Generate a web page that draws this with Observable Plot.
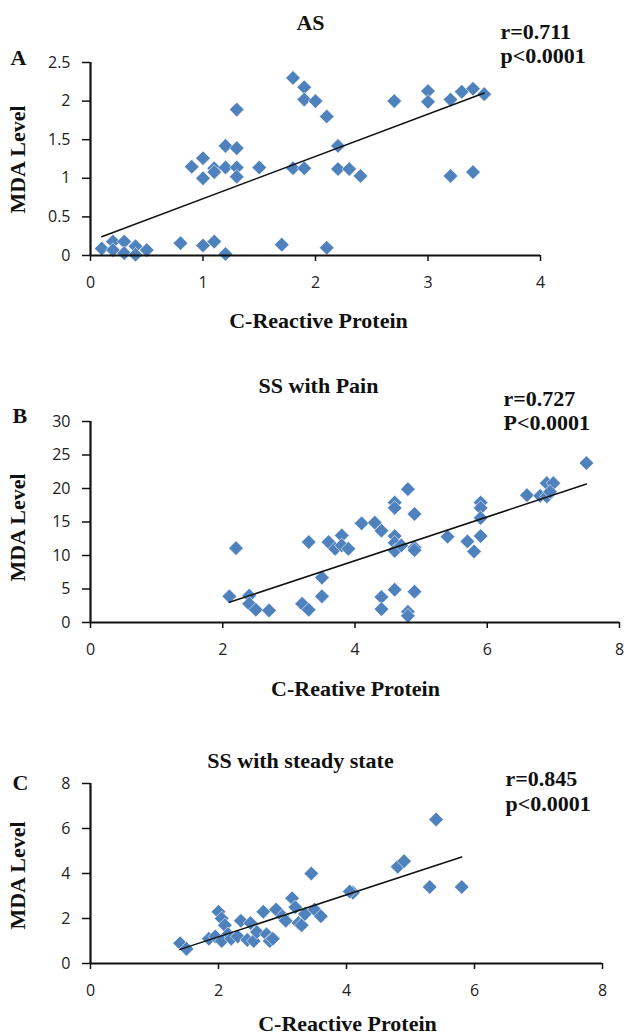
<!DOCTYPE html>
<html><head><meta charset="utf-8">
<script src="https://cdn.jsdelivr.net/npm/d3@7"></script>
<script src="https://cdn.jsdelivr.net/npm/@observablehq/plot@0.6"></script>
<style>
body{margin:0;background:#fff;}
#chart{width:624px;}
#chart svg{display:block;}
</style></head><body><div id="chart"></div>
<script>
// Panel A: AS
const asCRP = [0.1,0.2,0.2,0.3,0.3,0.4,0.4,0.5,0.8,1.0,1.1,1.2,1.7,2.1,
  0.9,1.0,1.0,1.1,1.1,1.2,1.2,1.3,1.3,1.3,1.3,1.5,
  1.8,1.9,1.9,2.0,2.1,2.2,1.8,1.9,2.2,2.3,2.4,2.7,3.0,3.0,3.2,3.3,3.4,3.5,3.2,3.4];
const asMDA = [0.09,0.18,0.07,0.18,0.03,0.12,0.01,0.07,0.16,0.13,0.18,0.02,0.14,0.10,
  1.15,1.26,1.0,1.13,1.08,1.42,1.14,1.89,1.39,1.14,1.02,1.14,
  2.30,2.18,2.02,2.0,1.80,1.42,1.13,1.13,1.12,1.12,1.03,2.0,2.13,1.99,2.02,2.12,2.16,2.09,1.03,1.08];
// Panel B: SS with Pain
const painCRP = [2.1,2.2,2.4,2.4,2.5,2.7,3.2,3.3,3.3,3.5,3.5,3.6,3.7,3.8,3.8,3.9,4.1,4.3,4.4,4.4,4.4,
  4.6,4.6,4.6,4.6,4.6,4.6,4.7,4.8,4.8,4.8,4.9,4.9,4.9,4.9,5.4,5.7,5.8,5.9,5.9,5.9,5.9,
  6.6,6.8,6.9,6.9,7.0,6.95,7.5];
const painMDA = [3.9,11.1,4.0,2.8,1.9,1.8,2.8,1.9,12.0,6.7,3.9,12.0,11.0,13.0,11.5,11.0,14.8,14.9,13.7,3.8,2.0,
  17.9,17.1,12.9,11.9,10.7,4.9,11.5,19.9,1.6,1.0,16.2,11.2,10.8,4.6,12.8,12.1,10.6,17.9,17.1,15.6,12.9,
  19.0,18.9,20.8,18.8,20.8,19.5,23.8];
// Panel C: SS with steady state
const steadyCRP = [1.4,1.5,1.85,1.95,2.0,2.05,2.1,2.15,2.05,2.2,2.3,2.35,2.45,2.55,2.5,2.6,2.7,2.75,2.8,2.85,
  2.9,3.0,3.05,3.15,3.2,3.25,3.3,3.35,3.45,3.5,3.6,4.1,4.05,4.8,4.9,5.3,5.4,5.8];
const steadyMDA = [0.9,0.65,1.1,1.2,2.3,2.0,1.7,1.3,1.0,1.1,1.2,1.9,1.05,1.0,1.8,1.4,2.3,1.3,1.0,1.1,
  2.4,2.1,1.9,2.9,2.5,1.8,1.7,2.2,4.0,2.4,2.1,3.15,3.2,4.3,4.55,3.4,6.4,3.4];

const xTicksA = [0,1,2,3,4], yTicksA = [0,0.5,1,1.5,2,2.5];
const xTicksB = [0,2,4,6,8], yTicksB = [0,5,10,15,20,25,30];
const xTicksC = [0,2,4,6,8], yTicksC = [0,2,4,6,8];

const panels = [
  {xs: asCRP, ys: asMDA, xTicks: xTicksA, yTicks: yTicksA, letter: "A", title: "AS",
   r: "r=0.711", p: "p<0.0001", xLabel: "C-Reactive Protein",
   h: 360, ml: 90, mr: 84, mt: 62, mb: 105,
   pos: {letter:[10,57], title:[310,22], r:[500,31], p:[500,55], yl:[17,159], xl:[318,320]}},
  {xs: painCRP, ys: painMDA, xTicks: xTicksB, yTicks: yTicksB, letter: "B", title: "SS with Pain",
   r: "r=0.727", p: "P<0.0001", xLabel: "C-Reative Protein",
   h: 345, ml: 90, mr: 5, mt: 61, mb: 83,
   pos: {letter:[12,55], title:[318,25], r:[503,38], p:[503,62], yl:[17,167], xl:[355,328]}},
  {xs: steadyCRP, ys: steadyMDA, xTicks: xTicksC, yTicks: yTicksC, letter: "C", title: "SS with steady state",
   r: "r=0.845", p: "p<0.0001", xLabel: "C-Reactive Protein",
   h: 330, ml: 90, mr: 22, mt: 78, mb: 72,
   pos: {letter:[12,77], title:[300,55], r:[505,73], p:[505,98], yl:[17,170], xl:[347,318]}}
];

function panel(c) {
  const data = c.xs.map((x, i) => ({x, y: c.ys[i]}));
  const at = ([px, py]) => ({frameAnchor: "top-left", lineAnchor: "middle", dx: px - c.ml, dy: py - c.mt});
  const serif = {fontFamily: "Liberation Serif", fontWeight: "bold", fontSize: 22, fill: "#111"};
  const xd = [c.xTicks[0], c.xTicks[c.xTicks.length-1]];
  const yd = [c.yTicks[0], c.yTicks[c.yTicks.length-1]];
  const tickFont = {fontFamily: "Open Sans", fontSize: 16, fill: "#222", stroke: "#111", strokeWidth: 1.5, tickFormat: d => String(d), label: null};
  return Plot.plot({
    width: 624, height: c.h,
    marginLeft: c.ml, marginRight: c.mr, marginTop: c.mt, marginBottom: c.mb,
    style: {background: "transparent", overflow: "visible"},
    x: {domain: xd},
    y: {domain: yd},
    marks: [
      Plot.dot(data, {x: "x", y: "y", symbol: "diamond2", r: 6.6, fill: "#4F81BD", stroke: "white", strokeWidth: 0.6}),
      Plot.linearRegressionY(data, {x: "x", y: "y", ci: 0, stroke: "#111", strokeWidth: 1.5}),
      Plot.axisX({ticks: c.xTicks, tickSize: 6, tickPadding: 15, ...tickFont}),
      Plot.axisY({ticks: c.yTicks, tickSize: 8, tickPadding: 12, ...tickFont}),
      Plot.ruleY([yd[0]], {stroke: "#111", strokeWidth: 2.2}),
      Plot.ruleX([xd[0]], {stroke: "#111", strokeWidth: 2.2}),
      Plot.text([c.letter], {...at(c.pos.letter), textAnchor: "start", ...serif}),
      Plot.text([c.title], {...at(c.pos.title), textAnchor: "middle", ...serif}),
      Plot.text([c.r], {...at(c.pos.r), textAnchor: "start", ...serif}),
      Plot.text([c.p], {...at(c.pos.p), textAnchor: "start", ...serif}),
      Plot.text(["MDA Level"], {...at(c.pos.yl), rotate: -90, textAnchor: "middle", ...serif}),
      Plot.text([c.xLabel], {...at(c.pos.xl), textAnchor: "middle", ...serif})
    ]
  });
}

const root = document.getElementById("chart");
for (const c of panels) root.appendChild(panel(c));
</script>
</body></html>
